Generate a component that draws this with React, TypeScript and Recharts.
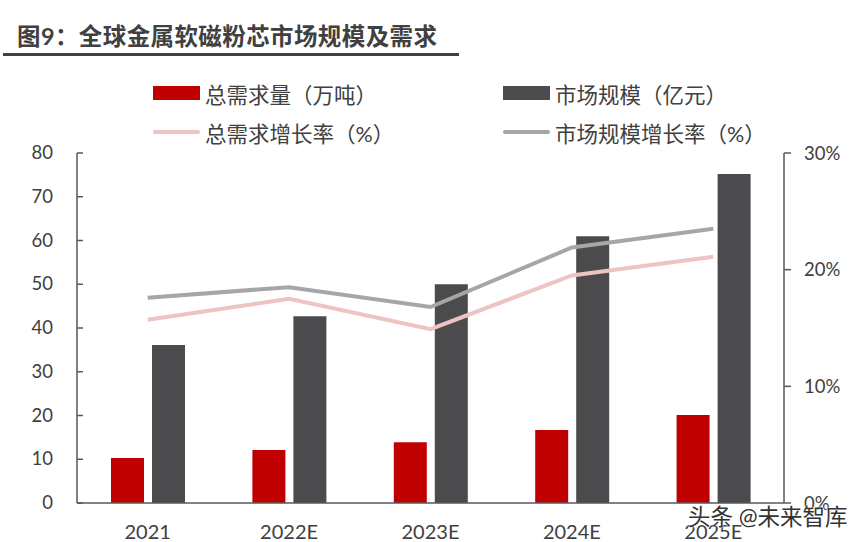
import React from 'react';
import {ComposedChart, Bar, Line, XAxis, YAxis} from 'recharts';

const categories = ['2021', '2022E', '2023E', '2024E', '2025E'];
const demand = [10.3, 12.1, 13.9, 16.7, 20.1];
const marketSize = [36.1, 42.7, 50.0, 61.0, 75.2];
const demandGrowth = [15.7, 17.5, 14.9, 19.5, 21.1];
const marketGrowth = [17.6, 18.5, 16.8, 21.9, 23.5];
const leftTicks = [0, 10, 20, 30, 40, 50, 60, 70, 80];
const rightTicks = [0, 10, 20, 30];

const data = categories.map((c, i) => ({
    name: c,
    demand: demand[i],
    market: marketSize[i],
    demandGrowth: demandGrowth[i],
    marketGrowth: marketGrowth[i],
}));

const FONT = "Lato, 'Noto Sans CJK SC', sans-serif";
const AXIS = '#595959';

const LeftTick = (props: any) => {
    const {x, y, payload} = props;
    return (
        <g>
            <line x1={x + 24} x2={x + 30} y1={y} y2={y} stroke={AXIS} strokeWidth={1.5}/>
            <text x={x} y={y} dy={6} textAnchor="end" fill="#404040" fontSize={18.5} fontFamily={FONT}>
                {payload.value}
            </text>
        </g>
    );
};

const legendItems = [
    {label: '总需求量（万吨）', color: '#C00000', kind: 'bar', left: 153, top: 82},
    {label: '市场规模（亿元）', color: '#4B4B4D', kind: 'bar', left: 503, top: 82},
    {label: '总需求增长率（%）', color: '#EDC3C3', kind: 'line', left: 153, top: 121},
    {label: '市场规模增长率（%）', color: '#A6A6A6', kind: 'line', left: 503, top: 121},
];

const App = () => {
    return (
        <div style={{position: 'absolute', left: 0, top: 0, width: 864, height: 542, background: '#fff', fontFamily: FONT}}>
            <div style={{position: 'absolute', left: 17, top: 18, fontSize: 23.5, fontWeight: 'bold', color: '#404040', letterSpacing: 0.4, whiteSpace: 'nowrap'}}>
                图9：全球金属软磁粉芯市场规模及需求
            </div>
            <div style={{position: 'absolute', left: 3, top: 53, width: 456, height: 3, background: '#404040'}}/>
            {legendItems.map(it => (
                <div key={it.label} style={{position: 'absolute', left: it.left, top: it.top, display: 'flex', alignItems: 'center', height: 22}}>
                    <div style={{
                        width: 47,
                        height: it.kind === 'bar' ? 14 : 4,
                        borderRadius: it.kind === 'bar' ? 0 : 2,
                        background: it.color,
                        marginRight: 5,
                    }}/>
                    <span style={{fontSize: 21.5, color: '#404040', whiteSpace: 'nowrap'}}>{it.label}</span>
                </div>
            ))}
            <div style={{position: 'absolute', left: 0, top: 0}}>
                <ComposedChart width={864} height={542} data={data} barGap={8}
                               margin={{top: 153, right: 20, bottom: 4, left: 17}}>
                    <XAxis dataKey="name" axisLine={{stroke: AXIS, strokeWidth: 1.5}} tickLine={false} height={35}
                           tick={{fill: '#404040', fontSize: 20, fontFamily: FONT}} tickMargin={16}/>
                    <YAxis yAxisId="left" domain={[0, 80]} ticks={leftTicks} width={60} interval={0}
                           axisLine={{stroke: AXIS, strokeWidth: 1.5}} tickLine={false} tickSize={0} tickMargin={24}
                           tick={<LeftTick/>}/>
                    <YAxis yAxisId="right" orientation="right" domain={[0, 30]} ticks={rightTicks} width={60} interval={0}
                           axisLine={{stroke: AXIS, strokeWidth: 1.5}} tickLine={{stroke: AXIS, strokeWidth: 1.5}}
                           tickSize={7} tickMargin={13} tickFormatter={(v: number) => v + '%'}
                           tick={{fill: '#404040', fontSize: 18.5, fontFamily: FONT, textAnchor: 'start'}}/>
                    <Bar yAxisId="left" dataKey="demand" barSize={33} fill="#C00000" isAnimationActive={false}/>
                    <Bar yAxisId="left" dataKey="market" barSize={33} fill="#4B4B4D" isAnimationActive={false}/>
                    <Line yAxisId="right" dataKey="demandGrowth" stroke="#EDC3C3" strokeWidth={4} dot={false}
                          isAnimationActive={false}/>
                    <Line yAxisId="right" dataKey="marketGrowth" stroke="#A6A6A6" strokeWidth={4} dot={false}
                          isAnimationActive={false}/>
                </ComposedChart>
            </div>
            <div style={{
                position: 'absolute', left: 688, top: 499, fontSize: 22.5, color: '#333',
                textShadow: '0 0 2px #fff, 0 0 2px #fff', whiteSpace: 'nowrap',
            }}>
                头条 @未来智库
            </div>
        </div>
    );
};

export default App;
